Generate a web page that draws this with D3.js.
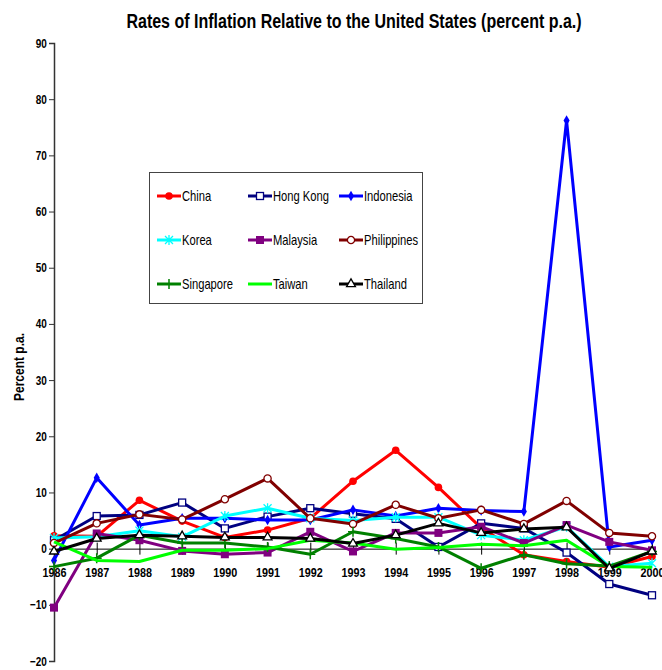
<!DOCTYPE html>
<html>
<head>
<meta charset="utf-8">
<script src="https://cdn.jsdelivr.net/npm/d3@7"></script>
<style>
  body { margin: 0; background: #fff; }
  svg { display: block; font-family: "Liberation Sans Narrow", "Arial Narrow", "Liberation Sans", sans-serif; }
</style>
</head>
<body>
<svg width="662" height="670"></svg>
<script>
// years on the x axis
var years = [1986, 1987, 1988, 1989, 1990, 1991, 1992, 1993, 1994, 1995, 1996, 1997, 1998, 1999, 2000];

// inflation relative to the US, percent p.a.
var china       = [2.3, 2.2, 8.6, 4.9, 2.0, 3.3, 5.4, 12.0, 17.5, 10.9, 3.7, -1.1, -2.3, -3.3, -1.4];
var hongKong    = [1.5, 5.8, 6.0, 8.2, 3.6, 5.7, 7.2, 6.2, 5.3, 0.3, 4.5, 3.6, -0.7, -6.3, -8.3];
var indonesia   = [-2.1, 12.6, 4.2, 5.4, 5.4, 5.1, 5.1, 6.9, 5.8, 7.2, 6.8, 6.6, 76.2, 0.3, 1.5];
var korea       = [1.9, 2.1, 3.2, 2.1, 5.8, 7.2, 5.4, 5.0, 5.6, 5.6, 2.4, 1.5, 3.9, -3.2, -2.6];
var malaysia    = [-10.5, 2.7, 1.5, -0.4, -1.0, -0.7, 3.0, -0.5, 2.8, 2.8, 3.9, 1.0, 4.2, 1.2, -0.3];
var philippines = [1.0, 4.5, 6.1, 5.2, 8.8, 12.5, 5.4, 4.4, 7.8, 5.4, 6.9, 4.4, 8.5, 2.8, 2.2];
var singapore   = [-3.2, -1.7, 2.4, 1.0, 1.0, 0.3, -1.0, 3.0, 1.8, 0.3, -3.5, -1.1, -2.7, -3.1, -0.5];
var taiwan      = [1.2, -2.1, -2.3, -0.3, -0.3, 0.0, 1.5, 1.0, -0.1, 0.2, 0.8, 0.5, 1.5, -3.2, -3.3];
var thailand    = [-0.5, 1.8, 2.4, 2.2, 2.0, 2.0, 1.8, 0.9, 2.4, 4.5, 2.8, 3.5, 3.8, -3.5, -0.5];

var yTicks = [-20, -10, 0, 10, 20, 30, 40, 50, 60, 70, 80, 90];

var series = [
  {name: "China",       values: china,       color: "#ff0000", marker: "dot"},
  {name: "Hong Kong",   values: hongKong,    color: "#000080", marker: "openSquare"},
  {name: "Indonesia",   values: indonesia,   color: "#0000ff", marker: "diamond"},
  {name: "Korea",       values: korea,       color: "#00ffff", marker: "star"},
  {name: "Malaysia",    values: malaysia,    color: "#800080", marker: "square"},
  {name: "Philippines", values: philippines, color: "#800000", marker: "openCircle"},
  {name: "Singapore",   values: singapore,   color: "#008000", marker: "plus"},
  {name: "Taiwan",      values: taiwan,      color: "#00ff00", marker: "none"},
  {name: "Thailand",    values: thailand,    color: "#000000", marker: "triangle"}
];

var svg = d3.select("svg");
var narrow = "scale(0.8,1)"; // no narrow font installed, so squeeze the text

var x = d3.scaleLinear().domain([1986, 2000]).range([54, 652]);
var y = d3.scaleLinear().domain([-20, 90]).range([661, 43]);

// title
svg.append("text")
    .attr("transform", "translate(354,28) " + narrow)
    .attr("text-anchor", "middle")
    .attr("font-size", 20).attr("font-weight", "bold")
    .text("Rates of Inflation Relative to the United States (percent p.a.)");

// y axis
var yAxis = svg.append("g")
    .attr("transform", "translate(" + x(1986) + ",0)")
    .call(d3.axisLeft(y).tickValues(yTicks).tickSize(5).tickPadding(4));
yAxis.select(".domain").attr("stroke", "#333").attr("stroke-width", 1.5);
yAxis.selectAll(".tick line").attr("stroke", "#333");
yAxis.selectAll("text").attr("font-size", 12.5).attr("font-weight", "bold")
    .attr("font-family", "inherit").attr("fill", "#000").attr("transform", narrow);

svg.append("text")
    .attr("transform", "translate(24,367) rotate(-90) " + narrow)
    .attr("text-anchor", "middle")
    .attr("font-size", 15).attr("font-weight", "bold")
    .text("Percent p.a.");

// x axis along zero, ticks crossing the line
var xAxis = svg.append("g")
    .attr("transform", "translate(0," + y(0) + ")")
    .call(d3.axisBottom(x).tickValues(years).tickFormat(d3.format("d")).tickSize(5).tickSizeOuter(0).tickPadding(14));
xAxis.select(".domain").attr("stroke", "#000");
xAxis.selectAll(".tick line").attr("y1", -6).attr("y2", 6).attr("stroke", "#000");
xAxis.selectAll("text").attr("font-size", 13.5).attr("font-weight", "bold")
    .attr("font-family", "inherit").attr("fill", "#000").attr("transform", narrow);

// marker drawing helper
function drawMarker(sel, type, color) {
  if (type === "dot") {
    sel.append("circle").attr("r", 3.8).attr("fill", color);
  } else if (type === "openCircle") {
    sel.append("circle").attr("r", 3.6).attr("fill", "#fff").attr("stroke", color).attr("stroke-width", 1.3);
  } else if (type === "openSquare") {
    sel.append("rect").attr("x", -3.5).attr("y", -3.5).attr("width", 7).attr("height", 7)
        .attr("fill", "#fff").attr("stroke", color).attr("stroke-width", 1.3);
  } else if (type === "square") {
    sel.append("rect").attr("x", -4).attr("y", -4).attr("width", 8).attr("height", 8).attr("fill", color);
  } else if (type === "diamond") {
    sel.append("path").attr("d", d3.symbol(d3.symbolDiamond, 32)()).attr("fill", color);
  } else if (type === "triangle") {
    sel.append("path").attr("d", d3.symbol(d3.symbolTriangle, 34)())
        .attr("fill", "#fff").attr("stroke", color).attr("stroke-width", 1.3);
  } else if (type === "star") {
    sel.append("path").attr("d", "M-4,-4L4,4M-4,4L4,-4M0,-5V5")
        .attr("stroke", color).attr("stroke-width", 1.3).attr("fill", "none");
  } else if (type === "plus") {
    sel.append("path").attr("d", "M0,-5V5M-5,0H5")
        .attr("stroke", color).attr("stroke-width", 1.5).attr("fill", "none");
  }
}

var line = d3.line()
    .x(function(d, i) { return x(years[i]); })
    .y(function(d) { return y(d); });

series.forEach(function(s) {
  var g = svg.append("g");
  g.append("path")
      .datum(s.values)
      .attr("fill", "none")
      .attr("stroke", s.color)
      .attr("stroke-width", 3)
      .attr("stroke-linejoin", "round")
      .attr("d", line);
  g.selectAll(".m")
      .data(s.values)
      .enter().append("g")
      .attr("transform", function(d, i) { return "translate(" + x(years[i]) + "," + y(d) + ")"; })
      .each(function() { drawMarker(d3.select(this), s.marker, s.color); });
});

// legend
var legend = svg.append("g");
legend.append("rect")
    .attr("x", 149.5).attr("y", 172.5).attr("width", 273).attr("height", 131)
    .attr("fill", "#fff").attr("stroke", "#444").attr("stroke-width", 1);

var colX = [157, 248, 339];
var rowY = [196, 240, 284];
series.forEach(function(s, i) {
  var lx = colX[i % 3], ly = rowY[Math.floor(i / 3)];
  var item = legend.append("g").attr("transform", "translate(" + lx + "," + ly + ")");
  item.append("line").attr("x1", 0).attr("x2", 24).attr("y1", 0).attr("y2", 0)
      .attr("stroke", s.color).attr("stroke-width", 3);
  var m = item.append("g").attr("transform", "translate(12,0)");
  drawMarker(m, s.marker, s.color);
  item.append("text").attr("transform", "translate(25,5) " + narrow)
      .attr("font-size", 14).text(s.name);
});
</script>
</body>
</html>
